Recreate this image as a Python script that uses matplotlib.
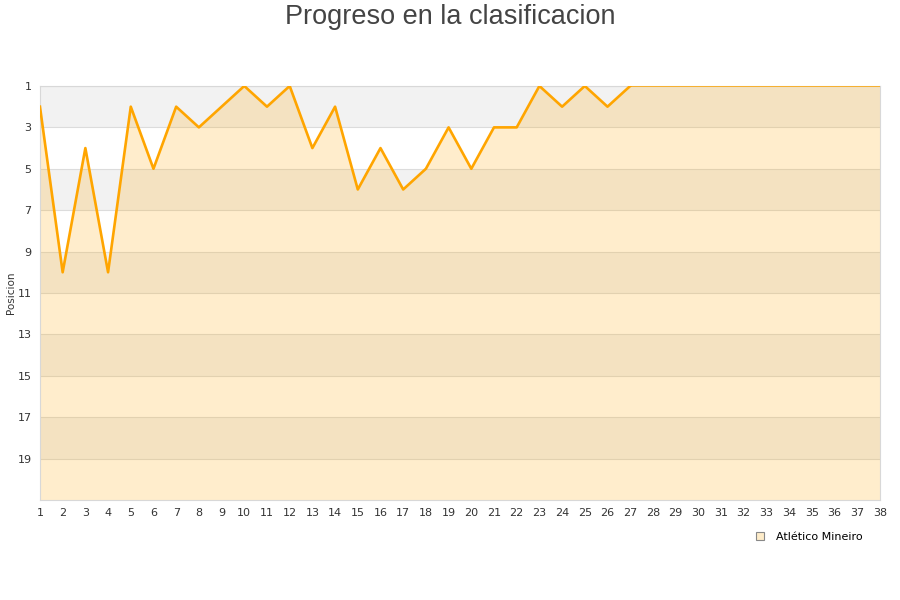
import matplotlib.pyplot as plt
from matplotlib.lines import Line2D

# Datos de la clasificacion (jornada -> posicion)
jornadas = list(range(1, 28))
posiciones = [2, 10, 4, 10, 2, 5, 2, 3, 2, 1, 2, 1, 4, 2, 6, 4, 6, 5, 3, 5, 3, 3, 1, 2, 1, 2, 1]
jornadas_resto = list(range(27, 39))
posiciones_resto = [1] * len(jornadas_resto)
equipo = 'Atlético Mineiro'

fig = plt.figure(figsize=(9, 6), dpi=100)
ax = fig.add_axes([0.0444, 0.1667, 0.9333, 0.69])

# bandas de fondo alternas
for i, y0 in enumerate(range(1, 21, 2)):
    color = '#f2f2f2' if i % 2 == 0 else '#ffffff'
    ax.axhspan(y0, y0 + 2, color=color, zorder=0, lw=0)

# relleno bajo la linea
todas_x = jornadas + jornadas_resto[1:]
todas_y = posiciones + posiciones_resto[1:]
ax.fill_between(todas_x, todas_y, 21, color='#ffa500', alpha=0.2, lw=0, zorder=2)

ax.plot(jornadas, posiciones, color='#ffa500', lw=1.9, zorder=4)
ax.plot(jornadas_resto, posiciones_resto, color='#ffa500', lw=1.1, zorder=4)

ax.set_xlim(1, 38)
ax.set_ylim(21, 1)
ax.set_xticks(range(1, 39))
ax.set_yticks(range(1, 21, 2))
ax.yaxis.grid(True, color='#dcdcdc', lw=0.8, zorder=1)
ax.set_axisbelow(True)
ax.tick_params(length=0, labelsize=8, colors='#333333', pad=6)
ax.tick_params(axis='y', pad=6)
for s in ax.spines.values():
    s.set_color('#d8d8d8')
ax.set_ylabel('Posicion', fontsize=7.5, color='#333333')
ax.yaxis.set_label_coords(-0.029, 0.5)

fig.suptitle('Progreso en la clasificacion', y=0.993, fontsize=19.5,
             color='#444444', family='Liberation Sans')

handle = Line2D([], [], marker='s', ls='none', markersize=6,
                markerfacecolor='#feecc9', markeredgecolor='#888888', markeredgewidth=0.8)
fig.legend([handle], [equipo], loc='center right', bbox_to_anchor=(0.97, 0.105),
           frameon=False, fontsize=8, handletextpad=0.5)

plt.savefig('out.png')
